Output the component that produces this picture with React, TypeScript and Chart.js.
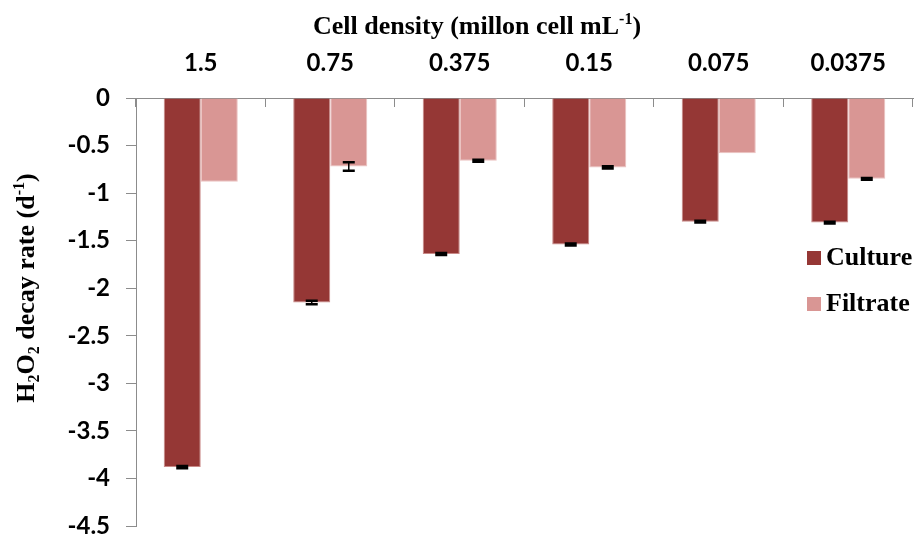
import React, { useEffect, useRef } from 'react';
import { Chart, registerables } from 'chart.js';

Chart.register(...registerables);

const categories = ['1.5', '0.75', '0.375', '0.15', '0.075', '0.0375'];
const seriesNames = ['Culture', 'Filtrate'];
const cultureValues = [-3.88, -2.15, -1.64, -1.54, -1.3, -1.31];
const filtrateValues = [-0.88, -0.72, -0.66, -0.73, -0.58, -0.85];
const cultureErrors = [0.012, 0.018, 0.01, 0.01, 0.01, 0.01];
const filtrateErrors = [0, 0.044, 0.01, 0.012, 0, 0.01];
const yMin = -4.5;
const yMax = 0;
const yStep = 0.5;

const colors = ['#953735', '#D99694'];
const axisGray = '#8C8C8C';
const serif = '"Liberation Serif", "Times New Roman", serif';
const sans = 'Lato, "Noto Sans", sans-serif';

type Seg = { t: string; s?: 'sub' | 'sup' };

function drawRich(ctx: CanvasRenderingContext2D, segs: Seg[], x: number, y: number, size: number) {
  const small = Math.round(size * 0.62);
  const fontFor = (s?: string) => `bold ${s ? small : size}px ${serif}`;
  let total = 0;
  for (const g of segs) {
    ctx.font = fontFor(g.s);
    total += ctx.measureText(g.t).width;
  }
  let cx = x - total / 2;
  ctx.textAlign = 'left';
  ctx.textBaseline = 'alphabetic';
  for (const g of segs) {
    ctx.font = fontFor(g.s);
    const dy = g.s === 'sub' ? size * 0.2 : g.s === 'sup' ? -size * 0.38 : 0;
    ctx.fillText(g.t, cx, y + dy);
    cx += ctx.measureText(g.t).width;
  }
}

const xTitle: Seg[] = [{ t: 'Cell density (millon cell mL' }, { t: '-1', s: 'sup' }, { t: ')' }];
const yTitle: Seg[] = [
  { t: 'H' }, { t: '2', s: 'sub' }, { t: 'O' }, { t: '2', s: 'sub' },
  { t: ' decay rate (d' }, { t: '-1', s: 'sup' }, { t: ')' },
];

const decorPlugin = {
  id: 'decor',
  afterDatasetsDraw(chart: any) {
    const ctx: CanvasRenderingContext2D = chart.ctx;
    const ys = chart.scales.y;
    ctx.save();
    chart.data.datasets.forEach((ds: any, di: number) => {
      const meta = chart.getDatasetMeta(di);
      meta.data.forEach((el: any, i: number) => {
        const e = ds.errors[i];
        if (!e) return;
        const v = ds.data[i];
        const t = ys.getPixelForValue(v + e);
        const b = ys.getPixelForValue(v - e);
        ctx.strokeStyle = '#000';
        ctx.lineWidth = 1.5;
        ctx.beginPath();
        ctx.moveTo(el.x, t);
        ctx.lineTo(el.x, b);
        ctx.stroke();
        ctx.lineWidth = 2.5;
        ctx.beginPath();
        ctx.moveTo(el.x - 6, t);
        ctx.lineTo(el.x + 6, t);
        ctx.moveTo(el.x - 6, b);
        ctx.lineTo(el.x + 6, b);
        ctx.stroke();
      });
    });
    ctx.restore();
  },
  afterDraw(chart: any) {
    const ctx: CanvasRenderingContext2D = chart.ctx;
    const xs = chart.scales.x;
    const area = chart.chartArea;
    ctx.save();
    const n = categories.length;
    const w = xs.width / n;
    ctx.strokeStyle = axisGray;
    ctx.lineWidth = 1;
    for (let i = 0; i <= n; i++) {
      const px = Math.round(xs.left + i * w) - 0.5;
      ctx.beginPath();
      ctx.moveTo(px, area.top);
      ctx.lineTo(px, area.top + 9);
      ctx.stroke();
    }
    ctx.fillStyle = '#000';
    drawRich(ctx, xTitle, 477, 34, 26);
    ctx.save();
    ctx.translate(34, 288);
    ctx.rotate(-Math.PI / 2);
    drawRich(ctx, yTitle, 0, 0, 26);
    ctx.restore();
    const lx = area.right - 106;
    seriesNames.forEach((name, i) => {
      const base = area.top + 167 + i * 46;
      ctx.fillStyle = colors[i];
      ctx.fillRect(lx, base - 14, 14, 14);
      ctx.fillStyle = '#000';
      ctx.font = `bold 26px ${serif}`;
      ctx.textAlign = 'left';
      ctx.textBaseline = 'alphabetic';
      ctx.fillText(name, lx + 19, base);
    });
    ctx.restore();
  },
};

export default function App() {
  const ref = useRef<HTMLCanvasElement | null>(null);
  useEffect(() => {
    if (!ref.current) return;
    const chart = new Chart(ref.current, {
      type: 'bar',
      data: {
        labels: categories,
        datasets: [
          { label: seriesNames[0], data: cultureValues, errors: cultureErrors, backgroundColor: colors[0], borderColor: '#C98A88', borderWidth: 1 } as any,
          { label: seriesNames[1], data: filtrateValues, errors: filtrateErrors, backgroundColor: colors[1], borderColor: '#EBC3C2', borderWidth: 1 } as any,
        ],
      },
      options: {
        responsive: false,
        animation: false,
        layout: { padding: { left: 0, right: 4, top: 0, bottom: 9 } },
        datasets: { bar: { categoryPercentage: 0.572, barPercentage: 1.0 } },
        plugins: { legend: { display: false }, tooltip: { enabled: false }, title: { display: false } },
        scales: {
          x: {
            position: 'top',
            grid: { display: true, drawOnChartArea: false, drawTicks: false, color: axisGray },
            border: { display: true, color: axisGray, width: 1 },
            ticks: { color: '#000', font: { family: sans, size: 24, weight: 'bold' }, padding: 20, maxRotation: 0 },
            afterFit: (s: any) => { s.height = 98; s.paddingLeft = 0; s.paddingRight = 0; },
          },
          y: {
            min: yMin,
            max: yMax,
            grid: { display: true, drawOnChartArea: false, drawTicks: true, tickLength: 10, color: axisGray },
            border: { display: true, color: axisGray, width: 1 },
            ticks: {
              stepSize: yStep,
              color: '#000',
              font: { family: sans, size: 24, weight: 'bold' },
              padding: 16,
              callback: (v: any) => String(Math.round(Number(v) * 10) / 10),
            },
            afterFit: (s: any) => { s.width = 136; s.paddingTop = 0; s.paddingBottom = 0; },
          },
        },
      } as any,
      plugins: [decorPlugin],
    });
    return () => chart.destroy();
  }, []);
  return (
    <div style={{ position: 'fixed', left: 0, top: 0, width: 917, height: 535, background: '#fff' }}>
      <canvas ref={ref} width={917} height={535} />
    </div>
  );
}
